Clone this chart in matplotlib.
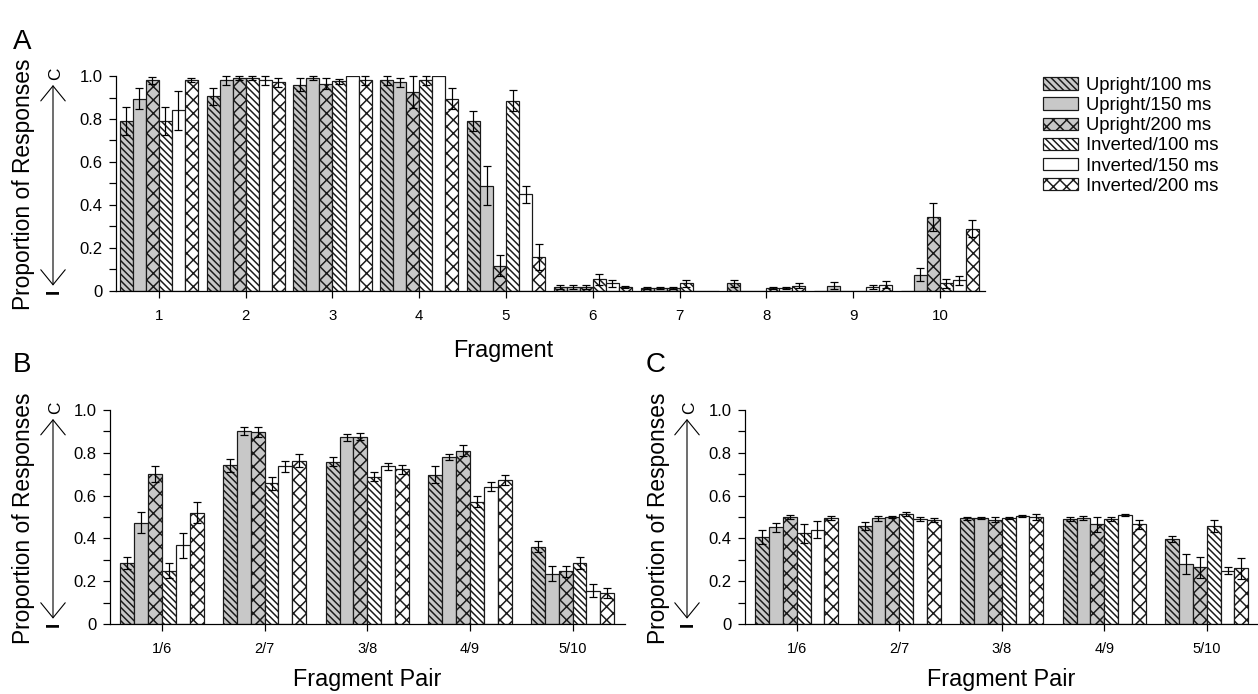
import numpy as np
import matplotlib
matplotlib.use('Agg')
import matplotlib.pyplot as plt
from matplotlib import transforms
from matplotlib.ticker import MultipleLocator, FixedLocator, FixedFormatter

plt.rcParams['font.family'] = ['Liberation Sans', 'DejaVu Sans']
plt.rcParams['hatch.linewidth'] = 1.35
plt.rcParams['hatch.color'] = 'black'

# condiciones (orden de la leyenda)
condiciones = ['Upright/100 ms', 'Upright/150 ms', 'Upright/200 ms',
               'Inverted/100 ms', 'Inverted/150 ms', 'Inverted/200 ms']
rellenos = ['#c8c8c8', '#c8c8c8', '#c8c8c8', 'white', 'white', 'white']
tramas = ['\\\\\\\\', '', 'xx', '\\\\\\\\', '', 'xx']

# Panel A: fragmentos 1..10
fragmentos = ['1', '2', '3', '4', '5', '6', '7', '8', '9', '10']
a_u100 = [0.79, 0.905, 0.96, 0.98, 0.79, 0.02, 0.015, 0.035, 0.0, 0.0]
a_u150 = [0.895, 0.98, 0.99, 0.97, 0.49, 0.02, 0.015, 0.0, 0.025, 0.075]
a_u200 = [0.98, 0.99, 0.965, 0.925, 0.118, 0.02, 0.015, 0.0, 0.0, 0.345]
a_i100 = [0.79, 0.99, 0.975, 0.98, 0.885, 0.055, 0.035, 0.015, 0.0, 0.035]
a_i150 = [0.84, 0.98, 1.0, 1.0, 0.45, 0.035, 0.0, 0.015, 0.02, 0.05]
a_i200 = [0.98, 0.97, 0.98, 0.895, 0.157, 0.02, 0.0, 0.025, 0.03, 0.29]
a_err_u100 = [0.065, 0.04, 0.03, 0.02, 0.045, 0.01, 0.005, 0.015, 0, 0]
a_err_u150 = [0.05, 0.02, 0.01, 0.02, 0.09, 0.01, 0.005, 0, 0.015, 0.03]
a_err_u200 = [0.015, 0.01, 0.025, 0.075, 0.05, 0.01, 0.005, 0, 0, 0.065]
a_err_i100 = [0.065, 0.01, 0.01, 0.02, 0.05, 0.025, 0.015, 0.005, 0, 0.02]
a_err_i150 = [0.09, 0.02, 0.0, 0.0, 0.04, 0.015, 0, 0.005, 0.01, 0.02]
a_err_i200 = [0.01, 0.02, 0.02, 0.05, 0.06, 0.005, 0, 0.01, 0.015, 0.04]

# Panel B y C: pares de fragmentos
pares = ['1/6', '2/7', '3/8', '4/9', '5/10']
b_u100 = [0.285, 0.742, 0.759, 0.697, 0.362]
b_u150 = [0.474, 0.902, 0.872, 0.78, 0.235]
b_u200 = [0.70, 0.897, 0.876, 0.81, 0.246]
b_i100 = [0.25, 0.658, 0.689, 0.572, 0.285]
b_i150 = [0.367, 0.736, 0.736, 0.642, 0.156]
b_i200 = [0.52, 0.764, 0.723, 0.673, 0.145]
b_err_u100 = [0.03, 0.03, 0.023, 0.04, 0.025]
b_err_u150 = [0.05, 0.018, 0.017, 0.015, 0.035]
b_err_u200 = [0.037, 0.025, 0.015, 0.027, 0.027]
b_err_i100 = [0.033, 0.03, 0.022, 0.027, 0.03]
b_err_i150 = [0.06, 0.027, 0.015, 0.02, 0.03]
b_err_i200 = [0.05, 0.03, 0.02, 0.025, 0.022]

c_u100 = [0.405, 0.458, 0.494, 0.49, 0.396]
c_u150 = [0.452, 0.494, 0.495, 0.494, 0.28]
c_u200 = [0.50, 0.50, 0.488, 0.465, 0.265]
c_i100 = [0.424, 0.513, 0.495, 0.49, 0.458]
c_i150 = [0.44, 0.49, 0.505, 0.51, 0.25]
c_i200 = [0.494, 0.485, 0.50, 0.465, 0.26]
c_err_u100 = [0.033, 0.018, 0.008, 0.01, 0.015]
c_err_u150 = [0.02, 0.013, 0.005, 0.01, 0.045]
c_err_u200 = [0.01, 0.005, 0.01, 0.035, 0.05]
c_err_i100 = [0.045, 0.01, 0.005, 0.01, 0.03]
c_err_i150 = [0.04, 0.008, 0.004, 0.005, 0.015]
c_err_i200 = [0.01, 0.01, 0.015, 0.02, 0.05]

W, H = 1258, 694
DPI = 80
fig = plt.figure(figsize=(W / DPI, H / DPI), dpi=DPI)


def fx(x):
    return x / W


def fy(y):
    return 1 - y / H


def ejes(x0, y0, x1, y1):
    return fig.add_axes([fx(x0), fy(y1), (x1 - x0) / W, (y1 - y0) / H])


def dibujar(ax, valores, errores, etiquetas, ancho, xlim, tam_x):
    x = np.arange(1, len(etiquetas) + 1)
    barras = []
    for k in range(6):
        pos = x + (k - 2.5) * ancho
        b = ax.bar(pos, valores[k], ancho, color=rellenos[k], edgecolor='#1a1a1a',
                   hatch=tramas[k], linewidth=1.1, zorder=2, label=condiciones[k])
        barras.append(b)
        v = np.array(valores[k])
        e = np.array(errores[k])
        m = e > 0
        ax.errorbar(pos[m], v[m], yerr=e[m], fmt='none', ecolor='black',
                    elinewidth=1.1, capsize=3.2, capthick=1.1, zorder=3, clip_on=False)
    ax.set_xlim(*xlim)
    ax.set_ylim(0, 1.0)
    ax.set_xticks(x)
    ax.set_xticklabels(etiquetas, fontsize=tam_x)
    ax.yaxis.set_major_locator(FixedLocator([0, 0.2, 0.4, 0.6, 0.8, 1.0]))
    ax.yaxis.set_major_formatter(FixedFormatter(['0', '0.2', '0.4', '0.6', '0.8', '1.0']))
    ax.yaxis.set_minor_locator(MultipleLocator(0.1))
    ax.tick_params(axis='both', which='both', direction='out', length=6, width=1.1)
    ax.tick_params(axis='y', labelsize=15, pad=6)
    ax.tick_params(axis='x', pad=10)
    for s in ['top', 'right']:
        ax.spines[s].set_visible(False)
    for s in ['left', 'bottom']:
        ax.spines[s].set_linewidth(1.1)
    return barras


def eje_y(ax, xlab, xflecha, ycentro):
    fig.text(fx(xlab), fy(ycentro), 'Proportion of Responses', rotation=90,
             ha='center', va='center', fontsize=20.5)
    tr = transforms.blended_transform_factory(fig.transFigure, ax.transData)
    ax.annotate('', xy=(fx(xflecha), 0.025), xytext=(fx(xflecha), 0.958),
                xycoords=tr, textcoords=tr, annotation_clip=False,
                arrowprops=dict(arrowstyle='<->,head_length=1.35,head_width=1.1',
                                mutation_scale=10, lw=1.0, color='black',
                                shrinkA=0, shrinkB=0))
    ax.text(fx(xflecha + 3), 1.012, 'C', transform=tr, rotation=90,
            ha='center', va='center', fontsize=15.5)
    ax.text(fx(xflecha + 1), 0.0, 'I', transform=tr, rotation=90,
            ha='center', va='center', fontsize=17, fontweight='bold')


# Panel A
axA = ejes(116, 76, 985, 291)
valA = [a_u100, a_u150, a_u200, a_i100, a_i150, a_i200]
errA = [a_err_u100, a_err_u150, a_err_u200, a_err_i100, a_err_i150, a_err_i200]
barrasA = dibujar(axA, valA, errA, fragmentos, 0.15, (0.505, 10.52), 13.5)
axA.set_xlabel('Fragment', fontsize=21)
axA.xaxis.set_label_coords((503 - 116) / 869, -0.225)
eje_y(axA, 24, 53, 184)

# Panel B
axB = ejes(110, 410, 625, 624)
valB = [b_u100, b_u150, b_u200, b_i100, b_i150, b_i200]
errB = [b_err_u100, b_err_u150, b_err_u200, b_err_i100, b_err_i150, b_err_i200]
dibujar(axB, valB, errB, pares, 0.135, (0.494, 5.51), 13)
axB.set_xlabel('Fragment Pair', fontsize=21, labelpad=11)
eje_y(axB, 24, 53, 518)

# Panel C
axC = ejes(745, 410, 1258, 624)
valC = [c_u100, c_u150, c_u200, c_i100, c_i150, c_i200]
errC = [c_err_u100, c_err_u150, c_err_u200, c_err_i100, c_err_i150, c_err_i200]
dibujar(axC, valC, errC, pares, 0.135, (0.496, 5.5), 13)
axC.set_xlabel('Fragment Pair', fontsize=21, labelpad=11)
eje_y(axC, 658, 687, 518)

# letras de panel
fig.text(fx(22), fy(42), 'A', fontsize=25, ha='center', va='center')
fig.text(fx(22), fy(365), 'B', fontsize=25, ha='center', va='center')
fig.text(fx(656), fy(365), 'C', fontsize=25, ha='center', va='center')

# leyenda
fig.legend(barrasA, condiciones, loc='upper left', bbox_to_anchor=(fx(1043), fy(77)),
           frameon=False, fontsize=16.7, handlelength=1.9, handleheight=0.65,
           handletextpad=0.4, labelspacing=0.17, borderpad=0, borderaxespad=0)

fig.savefig('out.png', dpi=DPI)
